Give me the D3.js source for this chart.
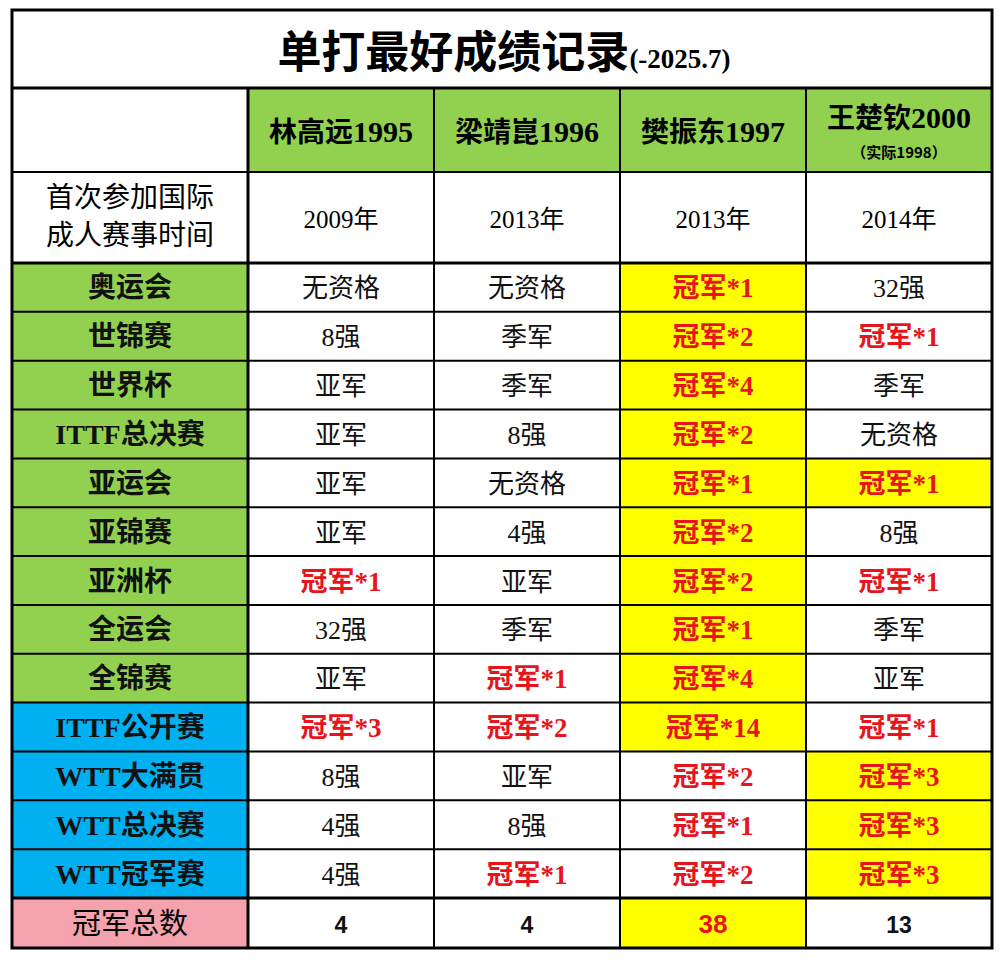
<!DOCTYPE html>
<html><head><meta charset="utf-8">
<script src="https://cdn.jsdelivr.net/npm/d3@7"></script>
<style>body{margin:0;background:#fff}</style></head>
<body><svg id="c" width="1004" height="960"></svg>
<script>
const title = "单打最好成绩记录";
const titleSuffix = "(-2025.7)";
const players = ["林高远1995","梁靖崑1996","樊振东1997","王楚钦2000"];
const playerNotes = ["","","","（实际1998）"];
const firstLabel = ["首次参加国际","成人赛事时间"];
const firstYear = ["2009年","2013年","2013年","2014年"];
const events = ["奥运会","世锦赛","世界杯","ITTF总决赛","亚运会","亚锦赛","亚洲杯","全运会","全锦赛","ITTF公开赛","WTT大满贯","WTT总决赛","WTT冠军赛"];
const eventGroup = ["g","g","g","g","g","g","g","g","g","b","b","b","b"];
const linGaoyuan = ["无资格","8强","亚军","亚军","亚军","亚军","冠军*1","32强","亚军","冠军*3","8强","4强","4强"];
const liangJingkun = ["无资格","季军","季军","8强","无资格","4强","亚军","季军","冠军*1","冠军*2","亚军","8强","冠军*1"];
const fanZhendong = ["冠军*1","冠军*2","冠军*4","冠军*2","冠军*1","冠军*2","冠军*2","冠军*1","冠军*4","冠军*14","冠军*2","冠军*1","冠军*2"];
const wangChuqin = ["32强","冠军*1","季军","无资格","冠军*1","8强","冠军*1","季军","亚军","冠军*1","冠军*3","冠军*3","冠军*3"];
const fanHighlight = [1,1,1,1,1,1,1,1,1,1,0,0,0];
const wangHighlight = [0,0,0,0,1,0,0,0,0,0,1,1,1];
const totalLabel = "冠军总数";
const totals = [4,4,38,13];

const results = [linGaoyuan, liangJingkun, fanZhendong, wangChuqin];
const highlights = [events.map(()=>0), events.map(()=>0), fanHighlight, wangHighlight];
const svg = d3.select("#c");
const L=12,R=992;
const colEdges=[12,248,434,620,806,992];
const x=d3.scaleBand().domain(d3.range(4)).range([248,992]);
const y=d3.scaleBand().domain(d3.range(events.length)).range([263,898]);
const CJK="'Noto Sans CJK SC','Liberation Serif',serif";
const SER="'Liberation Serif','Noto Sans CJK SC',serif";
const green="#92D050", blue="#00B0F0", pink="#F4A2AE", yellow="#FFFF00", red="#E8141C";
const fillC={g:green,b:blue};

const t=svg.append("text").attr("x",504).attr("y",68).attr("text-anchor","middle");
t.append("tspan").text(title).attr("font-family",CJK).attr("font-weight",700).attr("font-size",44);
t.append("tspan").text(titleSuffix).attr("font-family",SER).attr("font-weight",700).attr("font-size",27);

players.forEach((p,i)=>{
  svg.append("rect").attr("x",x(i)).attr("y",88).attr("width",x.bandwidth()).attr("height",84).attr("fill",green);
  const m=p.match(/^(\D+)(\d+)$/);
  const tt=svg.append("text").attr("x",x(i)+x.bandwidth()/2).attr("y",playerNotes[i]?128:142).attr("text-anchor","middle").attr("font-weight",700);
  tt.append("tspan").text(m[1]).attr("font-family",CJK).attr("font-size",28);
  tt.append("tspan").text(m[2]).attr("font-family",SER).attr("font-size",30);
  if(playerNotes[i]) svg.append("text").attr("x",x(i)+x.bandwidth()/2).attr("y",158).attr("text-anchor","middle").attr("font-family",CJK).attr("font-weight",700).attr("font-size",15).text(playerNotes[i]);
});
firstLabel.forEach((s,k)=>svg.append("text").attr("x",130).attr("y",207+k*38).attr("text-anchor","middle").attr("font-family",CJK).attr("font-size",28).text(s));
firstYear.forEach((s,i)=>svg.append("text").attr("x",x(i)+x.bandwidth()/2).attr("y",228).attr("text-anchor","middle").attr("font-family",SER).attr("font-size",25).text(s));

function mixed(sel,s,size,weight,color){
  const parts=s.match(/[\x00-\x7f]+|[^\x00-\x7f]+/g);
  parts.forEach(p=>sel.append("tspan").text(p).attr("font-family",/[\x00-\x7f]/.test(p)?SER:CJK).attr("font-size",size).attr("font-weight",weight).attr("fill",color));
}
events.forEach((e,r)=>{
  svg.append("rect").attr("x",12).attr("y",y(r)).attr("width",236).attr("height",y.bandwidth()).attr("fill",fillC[eventGroup[r]]);
  const tt=svg.append("text").attr("x",130).attr("y",y(r)+y.bandwidth()/2+10).attr("text-anchor","middle");
  mixed(tt,e,28,700,"#111");
  results.forEach((col,i)=>{
    if(highlights[i][r]) svg.append("rect").attr("x",x(i)).attr("y",y(r)).attr("width",x.bandwidth()).attr("height",y.bandwidth()).attr("fill",yellow);
    const v=col[r], champ=v.startsWith("冠军");
    const tc=svg.append("text").attr("x",x(i)+x.bandwidth()/2).attr("y",y(r)+y.bandwidth()/2+10).attr("text-anchor","middle");
    mixed(tc,v,champ?27:26,champ?700:400,champ?red:"#111");
  });
});
svg.append("rect").attr("x",12).attr("y",898).attr("width",236).attr("height",50).attr("fill",pink);
svg.append("text").attr("x",130).attr("y",934).attr("text-anchor","middle").attr("font-family",CJK).attr("font-size",29).text(totalLabel);
totals.forEach((v,i)=>{
  const mx=v===d3.max(totals);
  if(mx) svg.append("rect").attr("x",x(i)).attr("y",898).attr("width",x.bandwidth()).attr("height",50).attr("fill",yellow);
  svg.append("text").attr("x",x(i)+x.bandwidth()/2).attr("y",933).attr("text-anchor","middle").attr("font-family","'Liberation Sans',Arial,sans-serif").attr("font-weight",700).attr("font-size",mx?26:23).attr("fill",mx?red:"#111").text(v);
});
const hl=[88,172,263,...d3.range(1,events.length).map(r=>y(r)),898];
hl.forEach(v=>svg.append("line").attr("x1",L).attr("x2",R).attr("y1",v).attr("y2",v).attr("stroke","#000").attr("stroke-width",(v===88||v===898||v===263)?3:2));
colEdges.slice(1,-1).forEach(v=>svg.append("line").attr("x1",v).attr("x2",v).attr("y1",88).attr("y2",948).attr("stroke","#000").attr("stroke-width",v===248?3:2));
svg.append("rect").attr("x",L).attr("y",10).attr("width",R-L).attr("height",938).attr("fill","none").attr("stroke","#000").attr("stroke-width",3);
</script></body></html>
